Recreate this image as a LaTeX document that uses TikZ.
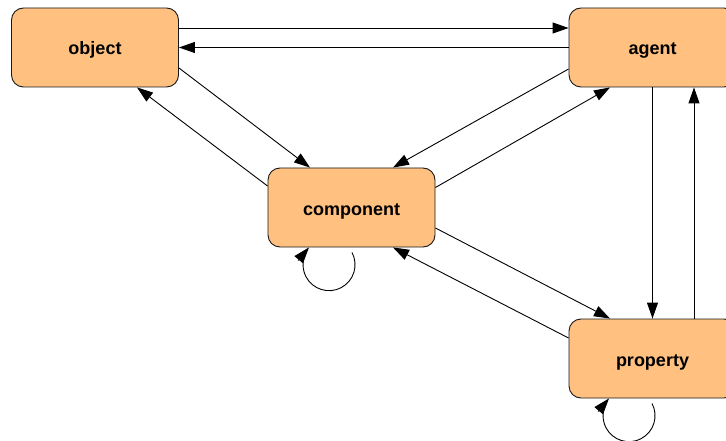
\documentclass[tikz,border=0pt]{standalone}
\usepackage{fontspec}
\setmainfont{Liberation Sans}
\usetikzlibrary{arrows.meta,calc}
\definecolor{boxfill}{HTML}{FFC080}
\tikzset{
  box/.style={draw=black!90, line width=0.9pt, fill=boxfill, rounded corners=12pt,
    minimum width=167pt, minimum height=79pt, inner sep=0pt,
    text height=15pt, text depth=0pt,
    font=\fontsize{18}{21}\selectfont\bfseries},
  line/.style={line width=0.9pt},
  conn/.style={line, -{Triangle[length=16pt,width=11pt]}}
}
\begin{document}
\begin{tikzpicture}[x=1pt,y=-1pt]
\useasboundingbox (0,0) rectangle (726,441);
\clip (0,0) rectangle (726,441);
\node[box] (object) at (95,47.5) {object};
\node[box] (agent) at (652.5,47.5) {agent};
\node[box] (component) at (351.5,207.5) {component};
\node[box] (property) at (652.5,358.5) {property};
% object <-> agent
\draw[conn] ([yshift=19.5pt]object.east) -- ([yshift=19.5pt]agent.west);
\draw[conn] (agent.west) -- (object.east);
% object <-> component
\draw[conn] ([yshift=-20.5pt]object.east) -- ([xshift=-41.5pt]component.north);
\draw[conn] ([yshift=21.5pt]component.west) -- ([xshift=42pt]object.south);
% agent <-> component
\draw[conn] ([yshift=-21.5pt]agent.west) -- ([xshift=41.5pt]component.north);
\draw[conn] ([yshift=20pt]component.east) -- ([xshift=-42.5pt]agent.south);
% agent <-> property
\draw[conn] (agent.south) -- (property.north);
\draw[conn] ([xshift=41.5pt]property.north) -- ([xshift=41.5pt]agent.south);
% component <-> property
\draw[conn] ([yshift=-20.5pt]component.east) -- ([xshift=-42.5pt]property.north);
\draw[conn] ([yshift=20.5pt]property.west) -- ([xshift=41.5pt]component.south);
% self loops
\coordinate (ctip) at ([xshift=-42.5pt]component.south);
\coordinate (ptip) at ([xshift=-43.5pt]property.south);
\draw[line] ([xshift=0.5pt,yshift=-5pt]component.south) arc[start angle=28, end angle=-205, radius=26pt];
\draw[conn] ($(ctip)+(230:17pt)$) -- (ctip);
\draw[line] ([xshift=-0.5pt,yshift=-5pt]property.south) arc[start angle=28, end angle=-205, radius=26pt];
\draw[conn] ($(ptip)+(230:17pt)$) -- (ptip);
\end{tikzpicture}
\end{document}
